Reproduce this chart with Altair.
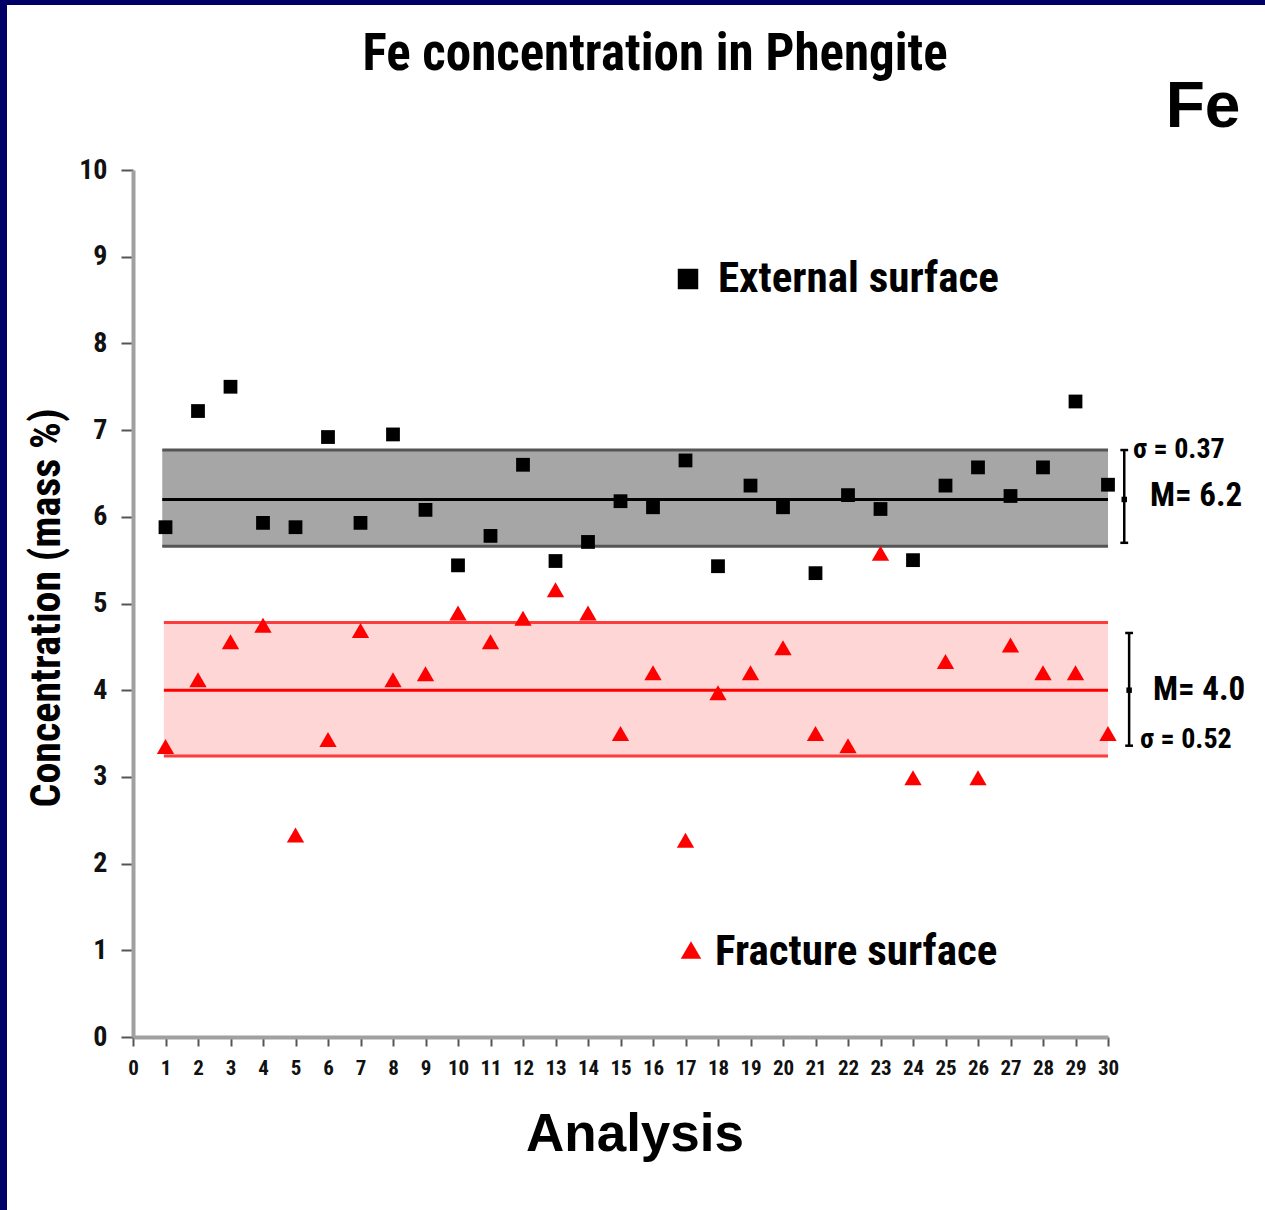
import altair as alt
import pandas as pd

# Fe content (mass %) of phengite, 30 spot analyses on each surface type
analysis = list(range(1, 31))
external_fe = [5.88, 7.22, 7.50, 5.93, 5.88, 6.92, 5.93, 6.95, 6.08, 5.44,
               5.78, 6.60, 5.49, 5.71, 6.18, 6.11, 6.65, 5.43, 6.36, 6.11,
               5.35, 6.25, 6.09, 5.50, 6.36, 6.57, 6.24, 6.57, 7.33, 6.37]
fracture_fe = [3.35, 4.12, 4.56, 4.75, 2.33, 3.43, 4.69, 4.12, 4.19, 4.89,
               4.56, 4.83, 5.16, 4.89, 3.50, 4.20, 2.27, 3.97, 4.20, 4.49,
               3.50, 3.36, 5.58, 2.99, 4.33, 2.99, 4.52, 4.20, 4.20, 3.50]

# Mean / spread bands for each surface
band_names = ["External surface", "Fracture surface"]
band_mean = [6.2, 4.0]
band_sigma = [0.37, 0.52]
band_low = [5.66, 3.24]
band_high = [6.77, 4.78]
band_start = [0.9, 0.95]
band_end = [30.0, 30.0]
# spread bars drawn beside the plot
bar_x = [30.5, 30.65]
bar_low = [5.70, 3.36]
bar_high = [6.77, 4.66]

x_ticks = list(range(0, 31))
y_ticks = list(range(0, 11))

W, H = 975, 867
NARROW = "Liberation Sans Narrow, Arial Narrow, Roboto Condensed, Liberation Sans"
WIDE = "Liberation Sans, Arial, sans-serif"

points = pd.DataFrame({
    "analysis": analysis * 2,
    "fe": external_fe + fracture_fe,
    "surface": ["External surface"] * 30 + ["Fracture surface"] * 30,
})
bands = pd.DataFrame({
    "surface": band_names, "mean": band_mean, "sigma": band_sigma,
    "low": band_low, "high": band_high,
    "start": band_start, "end": band_end,
    "bx": bar_x, "blow": bar_low, "bhigh": bar_high,
})
bands["bx0"] = bands["bx"] - 0.12
bands["bx1"] = bands["bx"] + 0.12

xs = alt.Scale(domain=[0, 30], nice=False, zero=False)
ys = alt.Scale(domain=[0, 10], nice=False)

x_axis = alt.Axis(values=x_ticks, title=None, grid=False, tickSize=9, format="d",
                  labelFontSize=21, labelPadding=11, labelFlush=False,
                  labelOverlap=False, labelBound=False)
y_axis = alt.Axis(values=y_ticks, title=None, grid=False, tickSize=12, format="d",
                  labelFontSize=28, labelPadding=14, labelOverlap=False)


def X(field):
    return alt.X(field, scale=xs, axis=x_axis)


def Y(field):
    return alt.Y(field, scale=ys, axis=y_axis)


fill_scale = alt.Scale(domain=band_names, range=["#a6a6a6", "#ffd6d6"])
edge_scale = alt.Scale(domain=band_names, range=["#555555", "#ff3b3b"])
mean_scale = alt.Scale(domain=band_names, range=["#000000", "#ff0000"])

base_b = alt.Chart(bands)

band_rect = base_b.mark_rect().encode(
    x=X("start:Q"), x2="end:Q",
    y=Y("low:Q"), y2="high:Q",
    color=alt.Color("surface:N", scale=fill_scale, legend=None),
)
edge_low = base_b.mark_rule(strokeWidth=3).encode(
    x=X("start:Q"), x2="end:Q", y=Y("low:Q"),
    color=alt.Color("surface:N", scale=edge_scale, legend=None),
)
edge_high = base_b.mark_rule(strokeWidth=3).encode(
    x=X("start:Q"), x2="end:Q", y=Y("high:Q"),
    color=alt.Color("surface:N", scale=edge_scale, legend=None),
)
mean_line = base_b.mark_rule(strokeWidth=3).encode(
    x=X("start:Q"), x2="end:Q", y=Y("mean:Q"),
    color=alt.Color("surface:N", scale=mean_scale, legend=None),
)

ext_pts = alt.Chart(points).transform_filter(
    alt.datum.surface == "External surface"
).mark_square(size=190, color="#000000", opacity=1).encode(
    x=X("analysis:Q"), y=Y("fe:Q"),
)
frac_pts = alt.Chart(points).transform_filter(
    alt.datum.surface == "Fracture surface"
).mark_point(shape="triangle-up", size=300, filled=True, color="#ff0000", opacity=1).encode(
    x=X("analysis:Q"), y=Y("fe:Q"),
)

# spread bars at the right edge
sbar = base_b.mark_rule(strokeWidth=2.5, color="#000000").encode(
    x=X("bx:Q"), y=Y("blow:Q"), y2="bhigh:Q",
)
scap_low = base_b.mark_rule(strokeWidth=2.5, color="#000000").encode(
    x=X("bx0:Q"), x2="bx1:Q", y=Y("blow:Q"),
)
scap_high = base_b.mark_rule(strokeWidth=2.5, color="#000000").encode(
    x=X("bx0:Q"), x2="bx1:Q", y=Y("bhigh:Q"),
)
smid = base_b.mark_square(size=30, color="#000000", opacity=1).encode(
    x=X("bx:Q"), y=Y("mean:Q"),
)


def label(text, x, y, size, font=NARROW, align="left", angle=0, weight="bold"):
    return alt.Chart(pd.DataFrame({"t": [text]})).mark_text(
        align=align, baseline="middle", fontSize=size, font=font,
        fontWeight=weight, angle=angle, color="#000000",
    ).encode(text="t:N", x=alt.value(x), y=alt.value(y))


texts = [
    label("Fe concentration in Phengite", 522, -115, 51, align="center"),
    label("Fe", 1070, -62, 64, font=WIDE, align="center"),
    label("External surface", 585, 109, 43),
    label("Fracture surface", 582, 782, 43),
    label("σ = 0.37", 1000, 280, 28),
    label("M= 6.2", 1017, 326, 33),
    label("M= 4.0", 1020, 520, 33),
    label("σ = 0.52", 1007, 570, 28),
    label("Analysis", 502, 965, 53, font=WIDE, align="center"),
    label("Concentration (mass %)", -86, 438, 42, angle=270, align="center"),
]

legend_sq = alt.Chart(pd.DataFrame({"k": [1]})).mark_square(
    size=420, color="#000000", opacity=1
).encode(x=alt.value(555), y=alt.value(109))
legend_tri = alt.Chart(pd.DataFrame({"k": [1]})).mark_point(
    shape="triangle-up", size=420, filled=True, color="#ff0000", opacity=1
).encode(x=alt.value(558), y=alt.value(780))

# navy frame on the left and top edges of the page
frame_left = alt.Chart(pd.DataFrame({"k": [1]})).mark_rect(color="#000066").encode(
    x=alt.value(-133), x2=alt.value(-126), y=alt.value(-170), y2=alt.value(1040)
)
frame_top = alt.Chart(pd.DataFrame({"k": [1]})).mark_rect(color="#000066").encode(
    x=alt.value(-133), x2=alt.value(1132), y=alt.value(-170), y2=alt.value(-165)
)

chart = alt.layer(
    band_rect, edge_low, edge_high, mean_line,
    ext_pts, frac_pts,
    sbar, scap_low, scap_high, smid,
    legend_sq, legend_tri,
    frame_left, frame_top,
    *texts,
).resolve_scale(color="independent").properties(
    width=W, height=H,
    autosize=alt.AutoSizeParams(type="none"),
    padding={"left": 133, "top": 170, "right": 157, "bottom": 173},
    background="#ffffff",
).configure_view(stroke=None).configure_axis(
    labelFont=NARROW, labelFontWeight="bold", labelColor="#111111",
    domainColor="#a0a0a0", domainWidth=4,
    tickColor="#555555", tickWidth=2, labelOverlap=False,
)

chart.save("out.html", embed_options={"renderer": "svg", "actions": False})
